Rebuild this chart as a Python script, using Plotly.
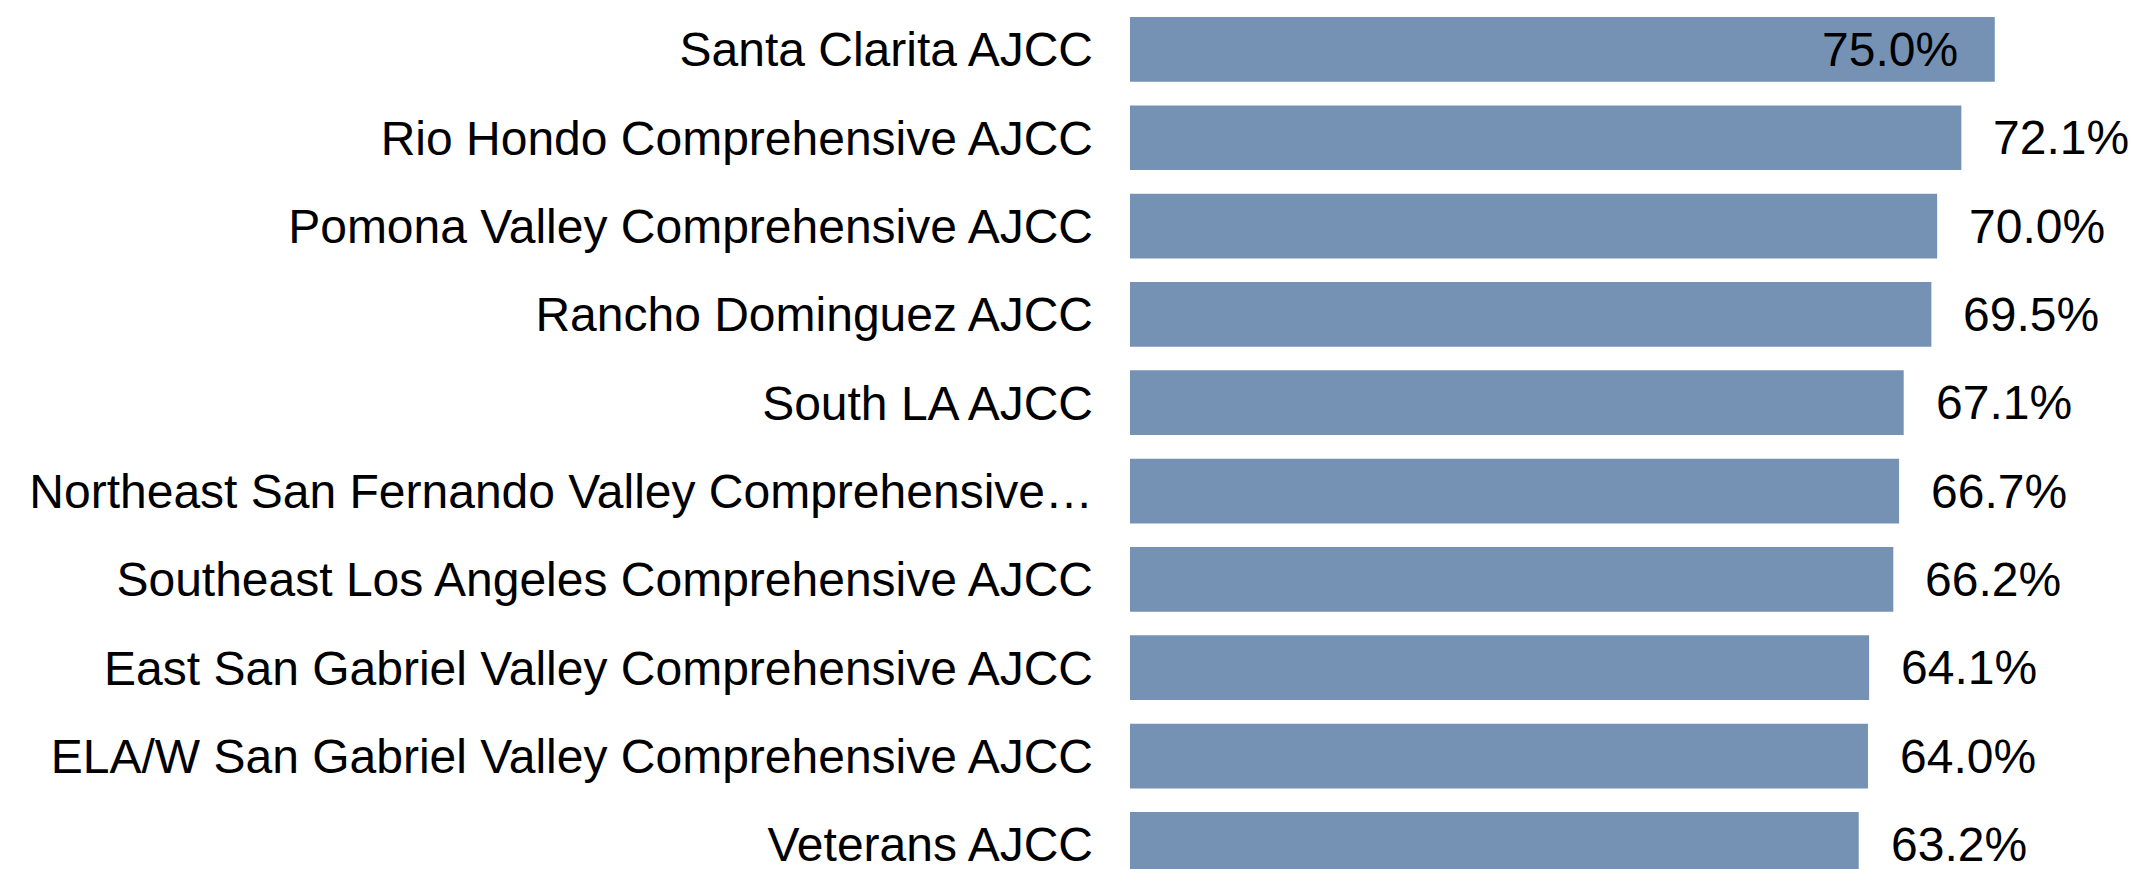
import plotly.graph_objects as go

categories = [
    "Santa Clarita AJCC",
    "Rio Hondo Comprehensive AJCC",
    "Pomona Valley Comprehensive AJCC",
    "Rancho Dominguez AJCC",
    "South LA AJCC",
    "Northeast San Fernando Valley Comprehensive…",
    "Southeast Los Angeles Comprehensive AJCC",
    "East San Gabriel Valley Comprehensive AJCC",
    "ELA/W San Gabriel Valley Comprehensive AJCC",
    "Veterans AJCC",
]
values = [0.750, 0.721, 0.700, 0.695, 0.671, 0.667, 0.662, 0.641, 0.640, 0.632]
labels = [f"{v*100:.1f}%" for v in values]

BAR_COLOR = "#7592b5"
FONT = "Liberation Sans, Arial, sans-serif"
FS = 48

fig = go.Figure(
    go.Bar(
        x=values,
        y=categories,
        orientation="h",
        marker=dict(color=BAR_COLOR, line=dict(width=0)),
        hoverinfo="skip",
    )
)

annotations = []
for i, (cat, v, lab) in enumerate(zip(categories, values, labels)):
    inside = i == 0
    annotations.append(
        dict(
            x=v,
            y=cat,
            xref="x",
            yref="y",
            text=lab,
            showarrow=False,
            xanchor="right" if inside else "left",
            yanchor="middle",
            xshift=-35 if inside else 30,
            font=dict(family=FONT, size=FS, color="#000000"),
        )
    )

fig.update_layout(
    width=2133,
    height=861,
    margin=dict(l=1122, r=0, t=0, b=0, pad=0),
    paper_bgcolor="white",
    plot_bgcolor="white",
    bargap=0.2675,
    showlegend=False,
    annotations=annotations,
    font=dict(family=FONT, size=FS, color="#000000"),
)
fig.update_xaxes(
    range=[0, 0.8768],
    showgrid=False,
    zeroline=False,
    showline=False,
    showticklabels=False,
    ticks="",
)
fig.update_yaxes(
    type="category",
    categoryorder="array",
    categoryarray=categories,
    range=[9.279, -0.4687],
    showgrid=False,
    zeroline=False,
    showline=False,
    ticks="",
    ticklabelstandoff=36,
    tickfont=dict(family=FONT, size=FS, color="#000000"),
    automargin=False,
)

fig.write_html("out.html")
